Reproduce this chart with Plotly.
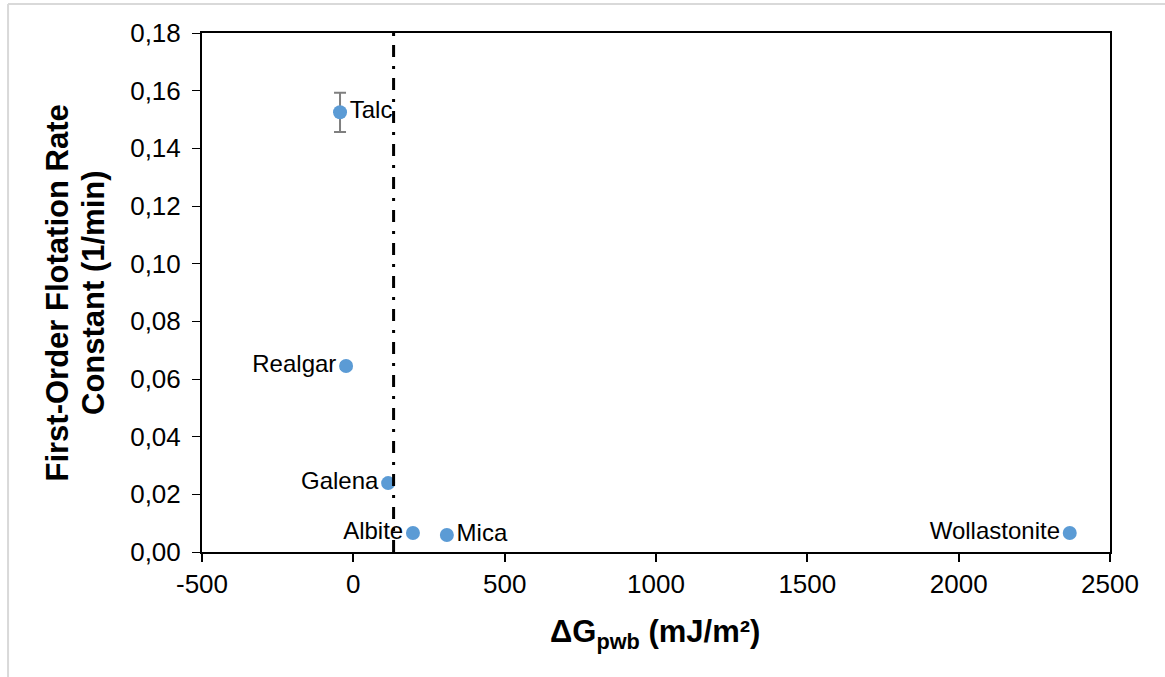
import plotly.graph_objects as go

# Minerals: work of adhesion (mJ/m²) vs first-order flotation rate constant (1/min)
minerals = ["Talc", "Realgar", "Galena", "Albite", "Mica", "Wollastonite"]
delta_g = [-44, -24, 115, 197, 309, 2367]
rate_k = [0.1525, 0.0645, 0.0239, 0.0066, 0.0059, 0.0066]
rate_err = [0.0068, 0.0010, 0.0005, 0.0004, 0.0004, 0.0004]
label_pos = ["middle right", "middle left", "middle left", "middle left",
             "middle right", "middle left"]
threshold_x = 133

x_ticks = [-500, 0, 500, 1000, 1500, 2000, 2500]
x_tick_text = ["-500", "0", "500", "1000", "1500", "2000", "2500"]
y_ticks = [0.00, 0.02, 0.04, 0.06, 0.08, 0.10, 0.12, 0.14, 0.16, 0.18]
y_title_lines = ["First-Order Flotation Rate", "Constant (1/min)"]

FONT = "Liberation Sans, Arial, sans-serif"

fig = go.Figure()

fig.add_trace(go.Scatter(
    x=delta_g, y=rate_k,
    mode="markers+text",
    text=minerals,
    textposition=label_pos,
    textfont=dict(family=FONT, size=24, color="#000000"),
    marker=dict(size=14, color="#5B9BD5"),
    error_y=dict(type="data", array=rate_err, visible=True,
                 color="#7F7F7F", thickness=2, width=6),
    showlegend=False,
    cliponaxis=False,
))

# Vertical dash-dot reference line
fig.add_shape(type="line", xref="x", yref="paper",
              x0=threshold_x, x1=threshold_x, y0=0, y1=1,
              line=dict(color="#000000", width=3, dash="12px,9px,3px,9px"))

# Light outer chart border (left and top edges)
fig.add_shape(type="line", xref="paper", yref="paper",
              x0=-0.2136, x1=-0.2136, y0=1.056, y1=-0.3,
              line=dict(color="#D9D9D9", width=2))
fig.add_shape(type="line", xref="paper", yref="paper",
              x0=-0.2136, x1=1.2, y0=1.056, y1=1.056,
              line=dict(color="#D9D9D9", width=2))

# Two-line rotated y-axis title, placed line by line for tighter spacing
for line_text, xpos in zip(y_title_lines, [-0.1586, -0.1195]):
    fig.add_annotation(
        xref="paper", yref="paper", x=xpos, y=0.5,
        xanchor="center", yanchor="middle",
        text=f"<b>{line_text}</b>",
        textangle=-90, showarrow=False,
        font=dict(family=FONT, size=31, color="#000000"),
    )

fig.add_annotation(
    xref="paper", yref="paper", x=0.499, y=-0.158,
    xanchor="center", yanchor="middle",
    text="<b>ΔG<sub>pwb</sub> (mJ/m²)</b>",
    showarrow=False,
    font=dict(family=FONT, size=31, color="#000000"),
)

axis_font = dict(family=FONT, size=26, color="#000000")

fig.update_layout(
    width=1165, height=677,
    margin=dict(l=202, r=55, t=33, b=125),
    paper_bgcolor="white", plot_bgcolor="white",
    separators=",.",
    xaxis=dict(range=[-500, 2500], tickvals=x_ticks, ticktext=x_tick_text,
               ticks="outside", ticklen=8,
               tickwidth=2, tickcolor="#000000", showline=True, linewidth=2,
               linecolor="#000000", mirror=True, showgrid=False, zeroline=False,
               tickfont=axis_font),
    yaxis=dict(range=[0, 0.18], tickvals=y_ticks, tickformat=".2f", ticks="outside",
               ticklen=8, tickwidth=1, tickcolor="#000000", showline=True, linewidth=2,
               linecolor="#000000", mirror=True, showgrid=False, zeroline=False,
               ticklabelstandoff=6, tickfont=axis_font),
)

fig.write_html("out.html")
